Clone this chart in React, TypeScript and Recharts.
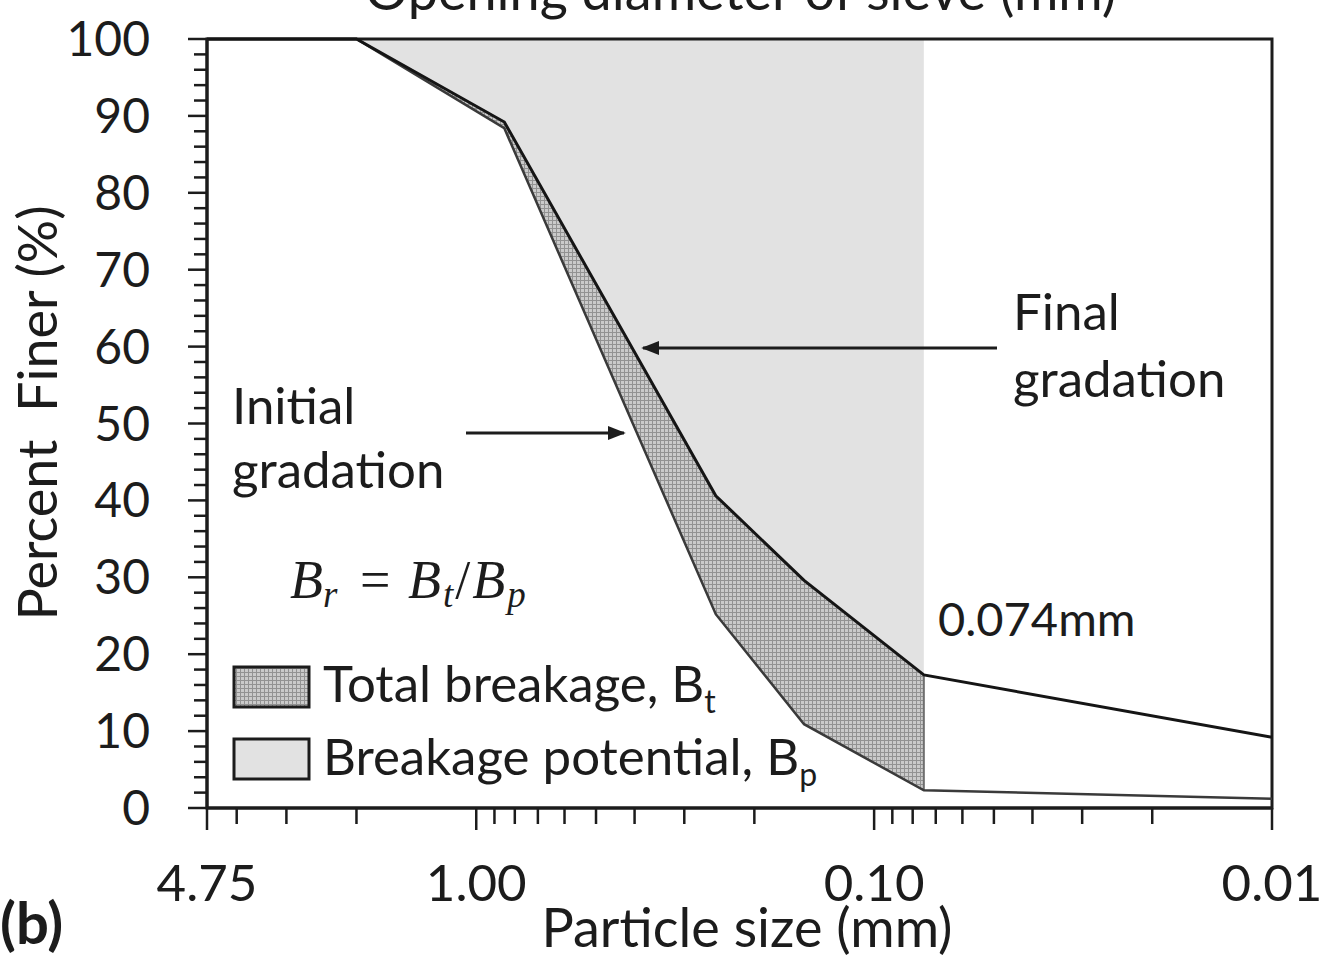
import React from 'react';
import { ComposedChart, Area, Line, XAxis, YAxis, ReferenceArea, ReferenceLine } from 'recharts';

// sieve sizes (mm) and percent finer
const sizes = [4.75, 2.0, 0.85, 0.25, 0.15, 0.075, 0.01];
const initialGradation = [100, 100, 88.4, 25.2, 10.9, 2.3, 1.2];
const finalGradation = [100, 100, 89.2, 40.6, 29.6, 17.3, 9.2];
const cutoffSize = 0.075;

const xTicks = [4.75, 4, 3, 2, 1, 0.9, 0.8, 0.7, 0.6, 0.5, 0.4, 0.3, 0.2, 0.1,
  0.09, 0.08, 0.07, 0.06, 0.05, 0.04, 0.03, 0.02, 0.01];
const xMajor = [4.75, 1, 0.1, 0.01];
const yTicks = Array.from({ length: 51 }, (_, i) => i * 2);

const FONT = 'Lato, "Open Sans", sans-serif';
const INK = '#1c1c1c';

const data = sizes.map((s, i) => {
  const inside = s >= cutoffSize;
  return {
    size: s,
    initial: initialGradation[i],
    final: finalGradation[i],
    potential: inside ? [finalGradation[i], 100] : null,
    total: inside ? [initialGradation[i], finalGradation[i]] : null,
  };
});

const cutIdx = sizes.indexOf(cutoffSize);

const XTick = (props: any) => {
  const { x, y, payload } = props;
  const major = xMajor.includes(payload.value);
  return (
    <g>
      <line x1={x} x2={x} y1={y} y2={y + (major ? 22 : 16)} stroke={INK} strokeWidth={2.5} />
      {major && (
        <text x={x} y={y + 93} textAnchor="middle" fontFamily={FONT} fontSize={51} fill={INK}>
          {payload.value.toFixed(2)}
        </text>
      )}
    </g>
  );
};

const YTick = (props: any) => {
  const { x, y, payload } = props;
  const major = payload.value % 10 === 0;
  return (
    <g>
      <line x1={x} x2={x - (major ? 19 : 13)} y1={y} y2={y} stroke={INK} strokeWidth={2.5} />
      {major && (
        <text x={x - 57} y={y + 17} textAnchor="end" fontFamily={FONT} fontSize={48} fill={INK}>
          {payload.value}
        </text>
      )}
    </g>
  );
};

const Hatch = ({ id }: { id: string }) => (
  <pattern id={id} width="4" height="4" patternUnits="userSpaceOnUse">
    <rect width="4" height="4" fill="#cacaca" />
    <path d="M0 0.5H4M0.5 0V4" stroke="#929292" strokeWidth="1" />
  </pattern>
);

export default function App() {
  return (
    <div style={{ position: 'absolute', left: 0, top: 0, width: 1336, height: 961, background: '#fff' }}>
      <ComposedChart
        width={1336}
        height={961}
        data={data}
        margin={{ top: 39, right: 64, left: 0, bottom: 0 }}
        style={{ position: 'absolute', left: 0, top: 0 }}
      >
        <defs>
          <Hatch id="hatch" />
        </defs>
        <XAxis
          dataKey="size"
          type="number"
          scale="log"
          domain={[0.01, 4.75]}
          reversed
          allowDataOverflow
          ticks={xTicks}
          interval={0}
          tick={<XTick />}
          tickLine={false}
          tickSize={0}
          tickMargin={0}
          height={153}
          axisLine={{ stroke: INK, strokeWidth: 3 }}
        />
        <YAxis
          type="number"
          domain={[0, 100]}
          ticks={yTicks}
          interval={0}
          tick={<YTick />}
          tickLine={false}
          tickSize={0}
          tickMargin={0}
          width={207}
          axisLine={{ stroke: INK, strokeWidth: 3 }}
        />
        <Area dataKey="potential" type="linear" fill="#e2e2e2" fillOpacity={1} stroke="none" isAnimationActive={false} />
        <Area dataKey="total" type="linear" fill="url(#hatch)" fillOpacity={1} stroke="none" isAnimationActive={false} />
        <ReferenceLine
          segment={[
            { x: cutoffSize, y: initialGradation[cutIdx] },
            { x: cutoffSize, y: finalGradation[cutIdx] },
          ]}
          stroke="#6e6e6e"
          strokeWidth={2}
          ifOverflow="visible"
        />
        <Line dataKey="initial" type="linear" stroke="#3a3a3a" strokeWidth={2.5} dot={false} isAnimationActive={false} />
        <Line dataKey="final" type="linear" stroke="#151515" strokeWidth={3} dot={false} isAnimationActive={false} />
        <ReferenceArea x1={4.75} x2={0.01} y1={0} y2={100} fill="none" stroke={INK} strokeWidth={3} ifOverflow="visible" />
      </ComposedChart>

      <svg width={1336} height={961} style={{ position: 'absolute', left: 0, top: 0, pointerEvents: 'none' }}>
        <defs>
          <Hatch id="hatch2" />
          <marker id="arrow" viewBox="0 0 10 10" refX="9" refY="5" markerWidth="6" markerHeight="6" orient="auto-start-reverse">
            <path d="M0 1L10 5L0 9z" fill={INK} />
          </marker>
        </defs>
        <g fontFamily={FONT} fontSize={51} fill={INK}>
          <text x={365} y={10} fontSize={54}>Opening diameter of sieve (mm)</text>
          <text transform="translate(57,413) rotate(-90)" textAnchor="middle" fontSize={54} xmlSpace="preserve" style={{ whiteSpace: 'pre' }}>
            {'Percent  Finer (%)'}
          </text>
          <text x={747} y={947} textAnchor="middle" fontSize={54}>Particle size (mm)</text>
          <text x={0} y={944} fontWeight="bold" fontSize={58}>(b)</text>

          <text x={232} y={424}>Initial</text>
          <text x={232} y={488}>gradation</text>
          <text x={1013} y={330}>Final</text>
          <text x={1013} y={397}>gradation</text>
          <text x={938} y={636} fontSize={47}>0.074mm</text>

          <text x={323} y={702}>
            Total breakage, B<tspan fontSize={32} dy={11}>t</tspan>
          </text>
          <text x={323} y={775}>
            Breakage potential, B<tspan fontSize={32} dy={11}>p</tspan>
          </text>
        </g>
        <g fontFamily='"Liberation Serif", "DejaVu Serif", serif' fontStyle="italic" fontSize={54} fill={INK}>
          <text x={290} y={598}>
            B<tspan fontSize={37} dy={9}>r</tspan>
          </text>
          <text x={360} y={598} fontStyle="normal">=</text>
          <text x={408} y={598} letterSpacing={2}>
            B<tspan fontSize={37} dy={9}>t</tspan>
            <tspan dy={-9} fontStyle="normal">/</tspan>B<tspan fontSize={37} dy={9}>p</tspan>
          </text>
        </g>

        <rect x={234} y={667} width={75} height={40} fill="url(#hatch2)" stroke={INK} strokeWidth={3} />
        <rect x={234} y={739} width={75} height={40} fill="#e2e2e2" stroke={INK} strokeWidth={3} />

        <line x1={466} y1={433} x2={624} y2={433} stroke={INK} strokeWidth={3} markerEnd="url(#arrow)" />
        <line x1={997} y1={348} x2={643} y2={348} stroke={INK} strokeWidth={3} markerEnd="url(#arrow)" />
      </svg>
    </div>
  );
}
